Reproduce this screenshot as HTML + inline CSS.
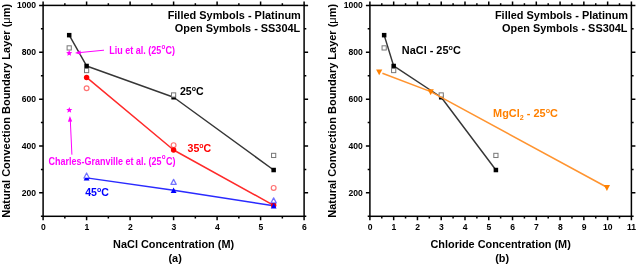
<!DOCTYPE html>
<html><head><meta charset="utf-8"><style>
html,body{margin:0;padding:0;background:#fff;}
svg{display:block;will-change:transform;}
text{font-family:"Liberation Sans", sans-serif;font-weight:bold;}
.tl{font-size:9.3px;fill:#000;}
.ax{font-size:10.9px;fill:#000;}
.lg{font-size:10.8px;fill:#000;}
.mg{font-size:9px;fill:#ff00ff;}
.cl{font-size:10.6px;}
.sup{font-size:6.3px;}
.sup2{font-size:7px;}
.sub{font-size:7px;}
</style></head><body>
<svg width="637" height="265" viewBox="0 0 637 265">
<rect width="637" height="265" fill="#fff"/>
<rect x="43.1" y="5.4" width="261.00" height="210.90" fill="none" stroke="#000" stroke-width="1.5"/>
<path d="M43.10 216.3v4.0 M43.10 5.4v-4.0 M64.85 216.3v2.2 M64.85 5.4v-2.2 M86.60 216.3v4.0 M86.60 5.4v-4.0 M108.35 216.3v2.2 M108.35 5.4v-2.2 M130.10 216.3v4.0 M130.10 5.4v-4.0 M151.85 216.3v2.2 M151.85 5.4v-2.2 M173.60 216.3v4.0 M173.60 5.4v-4.0 M195.35 216.3v2.2 M195.35 5.4v-2.2 M217.10 216.3v4.0 M217.10 5.4v-4.0 M238.85 216.3v2.2 M238.85 5.4v-2.2 M260.60 216.3v4.0 M260.60 5.4v-4.0 M282.35 216.3v2.2 M282.35 5.4v-2.2 M304.10 216.3v4.0 M304.10 5.4v-4.0 M43.1 216.30h-2.2 M304.1 216.30h2.2 M43.1 192.87h-4.0 M304.1 192.87h4.0 M43.1 169.43h-2.2 M304.1 169.43h2.2 M43.1 146.00h-4.0 M304.1 146.00h4.0 M43.1 122.57h-2.2 M304.1 122.57h2.2 M43.1 99.13h-4.0 M304.1 99.13h4.0 M43.1 75.70h-2.2 M304.1 75.70h2.2 M43.1 52.27h-4.0 M304.1 52.27h4.0 M43.1 28.83h-2.2 M304.1 28.83h2.2 M43.1 5.40h-4.0 M304.1 5.40h4.0" stroke="#000" stroke-width="1.5" fill="none"/>
<text transform="translate(43.30,230.20) scale(0.925,1.04)" class="tl" text-anchor="middle">0</text>
<text transform="translate(86.80,230.20) scale(0.925,1.04)" class="tl" text-anchor="middle">1</text>
<text transform="translate(130.30,230.20) scale(0.925,1.04)" class="tl" text-anchor="middle">2</text>
<text transform="translate(173.80,230.20) scale(0.925,1.04)" class="tl" text-anchor="middle">3</text>
<text transform="translate(217.30,230.20) scale(0.925,1.04)" class="tl" text-anchor="middle">4</text>
<text transform="translate(260.80,230.20) scale(0.925,1.04)" class="tl" text-anchor="middle">5</text>
<text transform="translate(304.30,230.20) scale(0.925,1.04)" class="tl" text-anchor="middle">6</text>
<text transform="translate(36.10,196.00) scale(0.925,1.04)" class="tl" text-anchor="end">200</text>
<text transform="translate(36.10,149.00) scale(0.925,1.04)" class="tl" text-anchor="end">400</text>
<text transform="translate(36.10,102.00) scale(0.925,1.04)" class="tl" text-anchor="end">600</text>
<text transform="translate(36.10,55.00) scale(0.925,1.04)" class="tl" text-anchor="end">800</text>
<text transform="translate(36.10,8.00) scale(0.925,1.04)" class="tl" text-anchor="end">1000</text>
<text transform="translate(173.60,248.40) scale(1.0,1.04)" class="ax" text-anchor="middle">NaCl Concentration (M)</text>
<text transform="translate(175.10,261.70) scale(1.0,1.04)" class="ax" text-anchor="middle">(a)</text>
<text transform="translate(10.00,110.80) rotate(-90) scale(1.0085,1.04)" class="ax" text-anchor="middle">Natural Convection Boundary Layer (<tspan font-weight="normal">μ</tspan>m)</text>
<text transform="translate(300.80,19.40) scale(1.015,1.04)" class="lg" text-anchor="end">Filled Symbols - Platinum</text>
<text transform="translate(300.20,32.00) scale(1.01,1.04)" class="lg" text-anchor="end">Open Symbols - SS304L</text>
<rect x="369.9" y="5.4" width="261.50" height="210.90" fill="none" stroke="#000" stroke-width="1.5"/>
<path d="M369.90 216.3v4.0 M369.90 5.4v-4.0 M381.79 216.3v2.2 M381.79 5.4v-2.2 M393.67 216.3v4.0 M393.67 5.4v-4.0 M405.56 216.3v2.2 M405.56 5.4v-2.2 M417.45 216.3v4.0 M417.45 5.4v-4.0 M429.33 216.3v2.2 M429.33 5.4v-2.2 M441.22 216.3v4.0 M441.22 5.4v-4.0 M453.10 216.3v2.2 M453.10 5.4v-2.2 M464.99 216.3v4.0 M464.99 5.4v-4.0 M476.88 216.3v2.2 M476.88 5.4v-2.2 M488.76 216.3v4.0 M488.76 5.4v-4.0 M500.65 216.3v2.2 M500.65 5.4v-2.2 M512.54 216.3v4.0 M512.54 5.4v-4.0 M524.42 216.3v2.2 M524.42 5.4v-2.2 M536.31 216.3v4.0 M536.31 5.4v-4.0 M548.20 216.3v2.2 M548.20 5.4v-2.2 M560.08 216.3v4.0 M560.08 5.4v-4.0 M571.97 216.3v2.2 M571.97 5.4v-2.2 M583.85 216.3v4.0 M583.85 5.4v-4.0 M595.74 216.3v2.2 M595.74 5.4v-2.2 M607.63 216.3v4.0 M607.63 5.4v-4.0 M619.51 216.3v2.2 M619.51 5.4v-2.2 M631.40 216.3v4.0 M631.40 5.4v-4.0 M369.9 216.30h-2.2 M631.4 216.30h2.2 M369.9 192.87h-4.0 M631.4 192.87h4.0 M369.9 169.43h-2.2 M631.4 169.43h2.2 M369.9 146.00h-4.0 M631.4 146.00h4.0 M369.9 122.57h-2.2 M631.4 122.57h2.2 M369.9 99.13h-4.0 M631.4 99.13h4.0 M369.9 75.70h-2.2 M631.4 75.70h2.2 M369.9 52.27h-4.0 M631.4 52.27h4.0 M369.9 28.83h-2.2 M631.4 28.83h2.2 M369.9 5.40h-4.0 M631.4 5.40h4.0" stroke="#000" stroke-width="1.5" fill="none"/>
<text transform="translate(370.10,230.20) scale(0.925,1.04)" class="tl" text-anchor="middle">0</text>
<text transform="translate(393.87,230.20) scale(0.925,1.04)" class="tl" text-anchor="middle">1</text>
<text transform="translate(417.65,230.20) scale(0.925,1.04)" class="tl" text-anchor="middle">2</text>
<text transform="translate(441.42,230.20) scale(0.925,1.04)" class="tl" text-anchor="middle">3</text>
<text transform="translate(465.19,230.20) scale(0.925,1.04)" class="tl" text-anchor="middle">4</text>
<text transform="translate(488.96,230.20) scale(0.925,1.04)" class="tl" text-anchor="middle">5</text>
<text transform="translate(512.74,230.20) scale(0.925,1.04)" class="tl" text-anchor="middle">6</text>
<text transform="translate(536.51,230.20) scale(0.925,1.04)" class="tl" text-anchor="middle">7</text>
<text transform="translate(560.28,230.20) scale(0.925,1.04)" class="tl" text-anchor="middle">8</text>
<text transform="translate(584.05,230.20) scale(0.925,1.04)" class="tl" text-anchor="middle">9</text>
<text transform="translate(607.83,230.20) scale(0.925,1.04)" class="tl" text-anchor="middle">10</text>
<text transform="translate(631.60,230.20) scale(0.925,1.04)" class="tl" text-anchor="middle">11</text>
<text transform="translate(362.90,196.00) scale(0.925,1.04)" class="tl" text-anchor="end">200</text>
<text transform="translate(362.90,149.00) scale(0.925,1.04)" class="tl" text-anchor="end">400</text>
<text transform="translate(362.90,102.00) scale(0.925,1.04)" class="tl" text-anchor="end">600</text>
<text transform="translate(362.90,55.00) scale(0.925,1.04)" class="tl" text-anchor="end">800</text>
<text transform="translate(362.90,8.00) scale(0.925,1.04)" class="tl" text-anchor="end">1000</text>
<text transform="translate(500.65,248.40) scale(1.0,1.04)" class="ax" text-anchor="middle">Chloride Concentration (M)</text>
<text transform="translate(502.15,261.70) scale(1.0,1.04)" class="ax" text-anchor="middle">(b)</text>
<text transform="translate(336.20,110.80) rotate(-90) scale(1.0085,1.04)" class="ax" text-anchor="middle">Natural Convection Boundary Layer (<tspan font-weight="normal">μ</tspan>m)</text>
<text transform="translate(628.10,19.40) scale(1.015,1.04)" class="lg" text-anchor="end">Filled Symbols - Platinum</text>
<text transform="translate(627.50,32.00) scale(1.01,1.04)" class="lg" text-anchor="end">Open Symbols - SS304L</text>
<polyline points="69.20,35.16 86.60,65.98 173.60,97.26 273.65,170.02" fill="none" stroke="#363636" stroke-width="1.45" stroke-linejoin="round"/>
<polyline points="86.60,77.43 173.60,150.03 273.65,205.29" fill="none" stroke="#ff2a2a" stroke-width="1.5" stroke-linejoin="round"/>
<polyline points="86.60,177.87 173.60,190.17 273.65,205.76" fill="none" stroke="#2a2aff" stroke-width="1.5" stroke-linejoin="round"/>
<rect x="66.95" y="32.91" width="4.5" height="4.5" fill="#000"/>
<rect x="84.35" y="63.73" width="4.5" height="4.5" fill="#000"/>
<rect x="171.35" y="95.01" width="4.5" height="4.5" fill="#000"/>
<rect x="271.40" y="167.77" width="4.5" height="4.5" fill="#000"/>
<rect x="67.10" y="45.81" width="4.20" height="4.20" fill="#fff" stroke="#777" stroke-width="1"/>
<rect x="84.50" y="68.44" width="4.20" height="4.20" fill="#fff" stroke="#777" stroke-width="1"/>
<rect x="171.50" y="92.86" width="4.20" height="4.20" fill="#fff" stroke="#777" stroke-width="1"/>
<rect x="271.55" y="153.32" width="4.20" height="4.20" fill="#fff" stroke="#777" stroke-width="1"/>
<circle cx="86.60" cy="88.21" r="2.40" fill="#fff" stroke="#ff0000" stroke-opacity="0.55" stroke-width="1.2"/>
<circle cx="173.60" cy="145.13" r="2.40" fill="#fff" stroke="#ff0000" stroke-opacity="0.55" stroke-width="1.2"/>
<circle cx="273.65" cy="187.92" r="2.40" fill="#fff" stroke="#ff0000" stroke-opacity="0.55" stroke-width="1.2"/>
<circle cx="86.60" cy="77.43" r="2.7" fill="#ff0000"/>
<circle cx="173.60" cy="150.03" r="2.7" fill="#ff0000"/>
<circle cx="273.65" cy="205.29" r="2.7" fill="#ff0000"/>
<polygon points="83.70,180.62 89.50,180.62 86.60,175.11" fill="#0000ff"/>
<polygon points="170.70,192.93 176.50,192.93 173.60,187.42" fill="#0000ff"/>
<polygon points="270.75,208.51 276.55,208.51 273.65,203.00" fill="#0000ff"/>
<polygon points="83.95,178.04 89.25,178.04 86.60,173.01" fill="#fff" stroke="#0000ff" stroke-opacity="0.55" stroke-width="1.25" stroke-linejoin="round"/>
<polygon points="170.95,184.37 176.25,184.37 173.60,179.34" fill="#fff" stroke="#0000ff" stroke-opacity="0.55" stroke-width="1.25" stroke-linejoin="round"/>
<polygon points="271.00,202.88 276.30,202.88 273.65,197.85" fill="#fff" stroke="#0000ff" stroke-opacity="0.55" stroke-width="1.25" stroke-linejoin="round"/>
<polygon points="69.20,50.00 70.05,52.04 72.24,52.22 70.57,53.65 71.08,55.79 69.20,54.64 67.32,55.79 67.83,53.65 66.16,52.22 68.35,52.04" fill="#ff00ff"/>
<polygon points="69.30,106.88 70.15,108.91 72.34,109.09 70.67,110.52 71.18,112.67 69.30,111.52 67.42,112.67 67.93,110.52 66.26,109.09 68.45,108.91" fill="#ff00ff"/>
<path d="M104 50.2 L78.5 52.7" stroke="#ff00ff" stroke-width="1" fill="none"/>
<polygon points="75,53 80.5,50.6 80.8,54.8" fill="#ff00ff"/>
<path d="M71.9 154.7 L70.3 120" stroke="#ff00ff" stroke-width="1" fill="none"/>
<polygon points="69.9,116 67.9,121.8 72.2,121.6" fill="#ff00ff"/>
<text transform="translate(109.20,53.80) scale(1.0,1.13)" class="mg">Liu et al. (25<tspan class="sup" dx="0.3" dy="-4.6">o</tspan><tspan dx="0.3" dy="4.6">C)</tspan></text>
<text transform="translate(48.60,164.60) scale(1.0,1.13)" class="mg">Charles-Granville et al. (25<tspan class="sup" dx="0.3" dy="-4.6">o</tspan><tspan dx="0.3" dy="4.6">C)</tspan></text>
<text transform="translate(179.90,95.10) scale(1.0,1.04)" class="cl" fill="#000">25<tspan class="sup2" dy="-4">o</tspan><tspan dy="4">C</tspan></text>
<text transform="translate(187.50,151.90) scale(1.0,1.04)" class="cl" fill="#ff0000">35<tspan class="sup2" dy="-4">o</tspan><tspan dy="4">C</tspan></text>
<text transform="translate(85.20,195.70) scale(1.0,1.04)" class="cl" fill="#0000ff">45<tspan class="sup2" dy="-4">o</tspan><tspan dy="4">C</tspan></text>
<polyline points="384.16,35.16 393.67,65.98 441.22,97.26 495.90,170.02" fill="none" stroke="#363636" stroke-width="1.45" stroke-linejoin="round"/>
<rect x="381.91" y="32.91" width="4.5" height="4.5" fill="#000"/>
<rect x="391.42" y="63.73" width="4.5" height="4.5" fill="#000"/>
<rect x="438.97" y="95.01" width="4.5" height="4.5" fill="#000"/>
<rect x="493.65" y="167.77" width="4.5" height="4.5" fill="#000"/>
<rect x="382.06" y="45.81" width="4.20" height="4.20" fill="#fff" stroke="#777" stroke-width="1"/>
<rect x="391.57" y="68.44" width="4.20" height="4.20" fill="#fff" stroke="#777" stroke-width="1"/>
<rect x="439.12" y="92.86" width="4.20" height="4.20" fill="#fff" stroke="#777" stroke-width="1"/>
<rect x="493.80" y="153.32" width="4.20" height="4.20" fill="#fff" stroke="#777" stroke-width="1"/>
<polyline points="382.40,73.20 430.70,91.60 606.90,187.30" fill="none" stroke="#ff9430" stroke-width="1.55" stroke-linejoin="round"/>
<polygon points="376.10,69.46 382.30,69.46 379.20,75.34" fill="#ff8000"/>
<polygon points="427.60,89.36 433.80,89.36 430.70,95.24" fill="#ff8000"/>
<polygon points="603.80,185.06 610.00,185.06 606.90,190.94" fill="#ff8000"/>
<text transform="translate(401.80,54.00) scale(1.03,1.04)" class="cl" fill="#000">NaCl - 25<tspan class="sup2" dy="-4">o</tspan><tspan dy="4">C</tspan></text>
<text transform="translate(493.10,116.90) scale(1.03,1.04)" class="cl" fill="#ff8000">MgCl<tspan class="sub" dy="3.0">2</tspan><tspan dy="-3.0"> - 25</tspan><tspan class="sup2" dy="-4">o</tspan><tspan dy="4">C</tspan></text>
</svg>
</body></html>
